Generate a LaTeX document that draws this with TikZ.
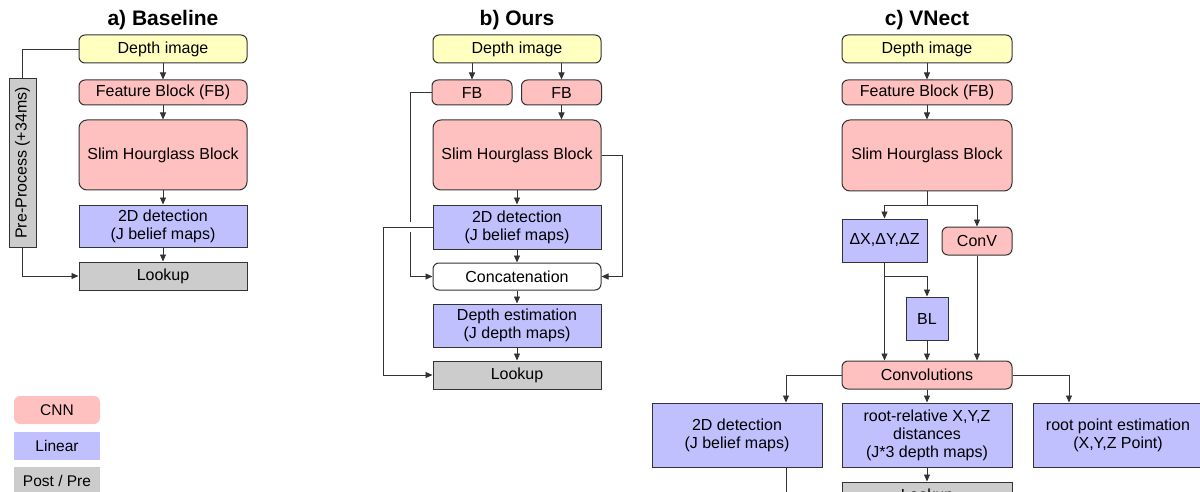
\documentclass[tikz,border=0pt]{standalone}
\usepackage{fontspec}
\setmainfont{Liberation Sans}
\usetikzlibrary{arrows.meta}
\definecolor{cnn}{RGB}{255,192,192}
\definecolor{lin}{RGB}{192,192,255}
\definecolor{img}{RGB}{255,255,192}
\definecolor{pp}{RGB}{204,204,204}
\definecolor{edge}{RGB}{51,51,51}
\begin{document}
\begin{tikzpicture}[x=1pt,y=-1pt,
  wh/.style 2 args={minimum width=#1pt, minimum height=#2pt},
  box/.style={draw=edge, line width=1pt, inner sep=0pt, align=center, font=\fontsize{16}{18}\selectfont},
  cnnbox/.style={box, fill=cnn, rounded corners=6pt},
  imgbox/.style={box, fill=img, rounded corners=6pt},
  whitebox/.style={box, fill=white, rounded corners=6pt},
  linbox/.style={box, fill=lin},
  ppbox/.style={box, fill=pp},
  legbox/.style={inner sep=0pt, align=center, font=\fontsize{15.5}{18}\selectfont, minimum width=86pt, minimum height=28pt},
  ttl/.style={anchor=base, font=\bfseries\fontsize{21}{24}\selectfont},
  ln/.style={draw=edge, line width=0.9pt},
  arr/.style={draw=edge, line width=0.9pt, -{Triangle[length=7pt,width=6pt]}},
]
\useasboundingbox (0,0) rectangle (1200,492);
\clip (0,0) rectangle (1200,492);

% ---------------- a) Baseline
\node[ttl] (ta) at (163,26) {a) Baseline};
\node[imgbox, wh={168}{28}] (a_img) at (163,49) {Depth image};
\node[cnnbox, wh={168}{25}] (a_fb) at (163,92.5) {Feature Block (FB)};
\node[cnnbox, wh={168}{70}, rounded corners=8pt] (a_hg) at (163,155) {Slim Hourglass Block};
\node[linbox, wh={168}{42}] (a_det) at (163,226) {2D detection\\(J belief maps)};
\node[ppbox, wh={168}{28}] (a_lk) at (163,276) {Lookup};
\node[ppbox, wh={27}{168}] (a_pre) at (22.5,163) {};
\node[rotate=90, font=\fontsize{16}{18}\selectfont, inner sep=0pt] (a_pretxt) at (a_pre.center) {Pre-Process (+34ms)};

\draw[arr] (a_img) -- (a_fb);
\draw[arr] (a_fb) -- (a_hg);
\draw[arr] (a_hg) -- (a_det);
\draw[arr] (a_det) -- (a_lk);
\draw[ln] (a_img.west) -| (a_pre.north);
\draw[arr] (a_pre.south) |- (a_lk.west);

% ---------------- b) Ours
\node[ttl] (tb) at (517,26) {b) Ours};
\node[imgbox, wh={168}{28}] (b_img) at (517,49) {Depth image};
\node[cnnbox, wh={80}{25}] (b_fb1) at (472,92.5) {FB};
\node[cnnbox, wh={80}{25}] (b_fb2) at (561.5,92.5) {FB};
\node[cnnbox, wh={168}{70}, rounded corners=8pt] (b_hg) at (517,155) {Slim Hourglass Block};
\node[linbox, wh={168}{44}] (b_det) at (517,227) {2D detection\\(J belief maps)};
\node[whitebox, wh={168}{27}] (b_cat) at (517,276.5) {Concatenation};
\node[linbox, wh={168}{43}] (b_dep) at (517,325.5) {Depth estimation\\(J depth maps)};
\node[ppbox, wh={168}{28}] (b_lk) at (517,375) {Lookup};

\coordinate (bj1) at (410,222);
\coordinate (bj2) at (410,232);
\coordinate (bL) at (383,227);
\coordinate (bR) at (622,155);

\draw[arr] (b_fb1.north |- b_img.south) -- (b_fb1.north);
\draw[arr] (b_fb2.north |- b_img.south) -- (b_fb2.north);
\draw[arr] (b_fb2.south) -- (b_fb2.south |- b_hg.north);
\draw[arr] (b_hg) -- (b_det);
\draw[arr] (b_det) -- (b_cat);
\draw[arr] (b_cat) -- (b_dep);
\draw[arr] (b_dep) -- (b_lk);
\draw[ln] (b_fb1.west) -| (bj1);
\draw[arr] (bj2) |- (b_cat.west);
\draw[arr] (b_det.west) -- (bL) |- (b_lk.west);
\draw[arr] (b_hg.east) -- (bR) |- (b_cat.east);

% ---------------- c) VNect
\node[ttl] (tc) at (927,26) {c) VNect};
\node[imgbox, wh={170}{28}] (c_img) at (927,49) {Depth image};
\node[cnnbox, wh={170}{25}] (c_fb) at (927,92.5) {Feature Block (FB)};
\node[cnnbox, wh={170}{71}, rounded corners=8pt] (c_hg) at (927,155.5) {Slim Hourglass Block};
\node[linbox, wh={85}{43}] (c_dx) at (884.5,240.5) {ΔX,ΔY,ΔZ};
\node[cnnbox, wh={70}{28}] (c_conv) at (977,241) {ConV};
\node[linbox, wh={42}{43}] (c_bl) at (927,318.5) {BL};
\node[cnnbox, wh={170}{28}] (c_cv) at (927,375) {Convolutions};
\node[linbox, wh={170}{64}] (c_d2) at (737,435) {2D detection\\(J belief maps)};
\node[linbox, wh={170}{64}] (c_rr) at (927,435) {root-relative X,Y,Z\\distances\\(J*3 depth maps)};
\node[linbox, wh={170}{64}] (c_rp) at (1118,435) {root point estimation\\(X,Y,Z Point)};
\node[ppbox, wh={170}{28}] (c_lk) at (927,496) {Lookup};

\coordinate (cs) at (927,205);
\coordinate (cb) at (884.5,276);
\coordinate (cl) at (786,375);
\coordinate (cr) at (1069,375);
\coordinate (cd) at (786,467);

\draw[arr] (c_img) -- (c_fb);
\draw[arr] (c_fb) -- (c_hg);
\draw[ln] (c_hg.south) -- (cs);
\draw[arr] (cs) -| (c_dx.north);
\draw[arr] (cs) -| (c_conv.north);
\draw[arr] (cb) -| (c_bl.north);
\draw[arr] (c_dx.south) -- (c_dx.south |- c_cv.north);
\draw[arr] (c_bl) -- (c_bl.south |- c_cv.north);
\draw[arr] (c_conv.south) -- (c_conv.south |- c_cv.north);
\draw[arr] (c_cv.west) -- (cl) -- (cl |- c_d2.north);
\draw[arr] (c_cv.east) -- (cr) -- (cr |- c_rp.north);
\draw[arr] (c_cv) -- (c_rr);
\draw[arr] (c_rr) -- (c_lk);
\draw[arr] (cd) |- (c_lk.west);

% ---------------- legend
\node[legbox, fill=cnn, rounded corners=6pt] (l_cnn) at (57,410) {CNN};
\node[legbox, fill=lin] (l_lin) at (57,446) {Linear};
\node[legbox, fill=pp] (l_pp) at (57,481) {Post / Pre};
\end{tikzpicture}
\end{document}
